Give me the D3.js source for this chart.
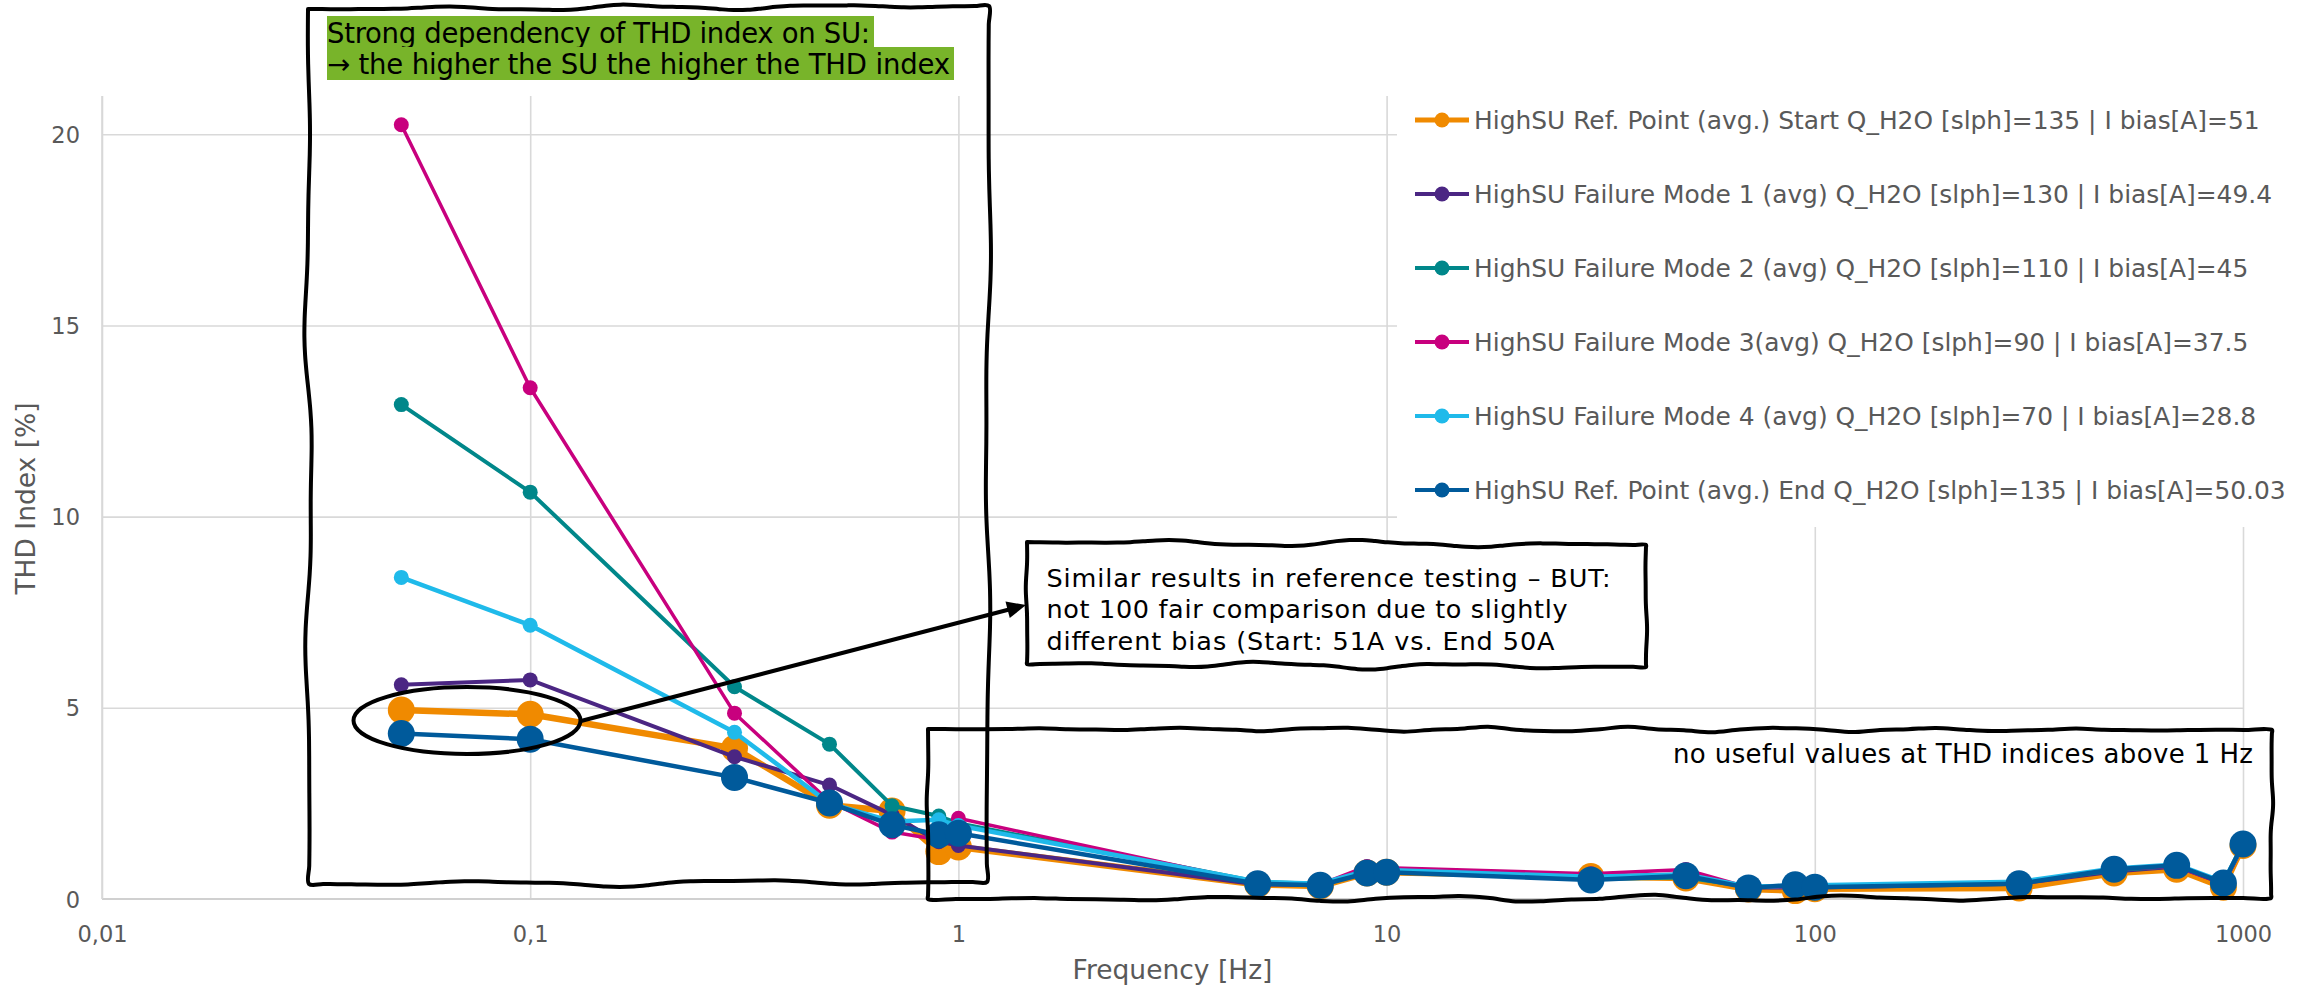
<!DOCTYPE html>
<html>
<head>
<meta charset="utf-8">
<script src="https://cdn.jsdelivr.net/npm/d3@7"></script>
<style>
  body { margin: 0; background: #fff; }
  svg { display: block; }
  text { font-family: "DejaVu Sans", Verdana, sans-serif; }
</style>
</head>
<body>
<svg id="chart" width="2310" height="987"></svg>
<script>
// ---- data -------------------------------------------------------------
const frequencies = [0.05, 0.1, 0.3, 0.5, 0.7, 0.9, 1, 5, 7, 9, 10, 30, 50, 70, 90, 100, 300, 500, 700, 900, 1000];

const refStart = [4.94, 4.83, 3.94, 2.45, 2.30, 1.24, 1.36, 0.38, 0.34, 0.68, 0.70, 0.59, 0.55, 0.26, 0.22, 0.27, 0.29, 0.68, 0.78, 0.31, 1.40];
const failureMode1 = [5.60, 5.73, 3.72, 2.98, 2.20, 1.50, 1.40, 0.38, 0.36, 0.72, 0.74, 0.58, 0.65, 0.30, 0.30, 0.30, 0.40, 0.72, 0.85, 0.40, 1.40];
const failureMode2 = [12.93, 10.64, 5.55, 4.05, 2.44, 2.17, 1.98, 0.45, 0.40, 0.72, 0.72, 0.52, 0.56, 0.32, 0.34, 0.33, 0.42, 0.75, 0.86, 0.44, 1.42];
const failureMode3 = [20.25, 13.37, 4.86, 2.55, 1.75, 1.55, 2.11, 0.42, 0.38, 0.85, 0.82, 0.66, 0.77, 0.30, 0.33, 0.34, 0.42, 0.78, 0.85, 0.40, 1.40];
const failureMode4 = [8.41, 7.16, 4.36, 2.50, 2.03, 2.07, 1.92, 0.45, 0.40, 0.75, 0.76, 0.58, 0.64, 0.32, 0.35, 0.36, 0.45, 0.80, 0.90, 0.45, 1.42];
const refEnd = [4.33, 4.18, 3.18, 2.51, 1.94, 1.68, 1.72, 0.40, 0.36, 0.68, 0.70, 0.50, 0.61, 0.29, 0.37, 0.31, 0.40, 0.78, 0.88, 0.42, 1.44];

const seriesNames = [
  "HighSU Ref. Point (avg.) Start Q_H2O [slph]=135 | I bias[A]=51",
  "HighSU Failure Mode 1 (avg) Q_H2O [slph]=130 | I bias[A]=49.4",
  "HighSU Failure Mode 2 (avg) Q_H2O [slph]=110 | I bias[A]=45",
  "HighSU Failure Mode 3(avg) Q_H2O [slph]=90 | I bias[A]=37.5",
  "HighSU Failure Mode 4 (avg) Q_H2O [slph]=70 | I bias[A]=28.8",
  "HighSU Ref. Point (avg.) End Q_H2O [slph]=135 | I bias[A]=50.03"
];
const seriesValues = [refStart, failureMode1, failureMode2, failureMode3, failureMode4, refEnd];

const xTickValues = [0.01, 0.1, 1, 10, 100, 1000];
const xTickLabels = ["0,01", "0,1", "1", "10", "100", "1000"];
const yTickValues = [0, 5, 10, 15, 20];
const yTickLabels = ["0", "5", "10", "15", "20"];

const xTitle = "Frequency [Hz]";
const yTitle = "THD Index [%]";
const noteSU = ["Strong dependency of THD index on SU:", "\u2192 the higher the SU the higher the THD index"];
const noteReference = ["Similar results in reference testing \u2013 BUT:", "not 100 fair comparison due to slightly", "different bias (Start: 51A vs. End 50A"];
const noteHighFreq = "no useful values at THD indices above 1 Hz";

// ---- styles -----------------------------------------------------------
const seriesColors = ["#f08a00", "#4b2683", "#00878a", "#c8007e", "#1fbaea", "#005a9b"];
const seriesLineWidths = [6.5, 4, 4, 3.5, 4.5, 4.5];
const seriesMarkerRadius = [13.5, 7.5, 7.5, 7.5, 7.5, 13.5];

const W = 2310, H = 987;
const plot = { left: 102, right: 2243, top: 96, bottom: 899 };
const gridColor = "#d9d9d9";
const labelColor = "#595959";

const svg = d3.select("#chart");

const x = d3.scaleLog().domain([0.01, 1000]).range([plot.left, plot.right]);
const y = d3.scaleLinear().domain([0, 21]).range([plot.bottom, plot.top]);

// ---- grid -------------------------------------------------------------
const grid = svg.append("g");
grid.append("g")
  .attr("transform", `translate(0,${plot.bottom})`)
  .call(d3.axisBottom(x).tickValues(xTickValues).tickSize(-(plot.bottom - plot.top)).tickFormat(""))
  .call(g => g.select(".domain").remove())
  .call(g => g.selectAll("line").attr("stroke", gridColor).attr("stroke-width", 1.6));
grid.append("g")
  .attr("transform", `translate(${plot.left},0)`)
  .call(d3.axisLeft(y).tickValues(yTickValues.filter(v => v > 0)).tickSize(-(plot.right - plot.left)).tickFormat(""))
  .call(g => g.select(".domain").remove())
  .call(g => g.selectAll("line").attr("stroke", gridColor).attr("stroke-width", 1.6));
// value axis baseline
svg.append("line")
  .attr("x1", plot.left).attr("x2", plot.right)
  .attr("y1", y(0)).attr("y2", y(0))
  .attr("stroke", "#d0d0d0").attr("stroke-width", 2.2);

// legend panel sits over the upper right part of the grid
const legendBox = { left: 1397, top: 0, right: W, bottom: 527 };
svg.append("rect")
  .attr("x", legendBox.left).attr("y", legendBox.top)
  .attr("width", legendBox.right - legendBox.left).attr("height", legendBox.bottom - legendBox.top)
  .attr("fill", "#fff");

// ---- tick labels ------------------------------------------------------
const xAxis = svg.append("g")
  .attr("transform", `translate(0,${plot.bottom})`)
  .call(d3.axisBottom(x).tickValues(xTickValues).tickSize(0).tickPadding(0)
    .tickFormat((d, i) => xTickLabels[i]));
xAxis.select(".domain").remove();
xAxis.selectAll("text")
  .attr("y", 43).attr("dy", null)
  .attr("fill", labelColor).attr("font-size", 22.5)
  .attr("font-family", '"DejaVu Sans", Verdana, sans-serif');

const yAxis = svg.append("g")
  .attr("transform", `translate(${plot.left},0)`)
  .call(d3.axisLeft(y).tickValues(yTickValues).tickSize(0).tickPadding(0)
    .tickFormat((d, i) => yTickLabels[i]));
yAxis.select(".domain").remove();
yAxis.selectAll("text")
  .attr("x", -22).attr("dy", "0.36em")
  .attr("fill", labelColor).attr("font-size", 22.5)
  .attr("font-family", '"DejaVu Sans", Verdana, sans-serif');

// axis line on the left
svg.append("line")
  .attr("x1", plot.left).attr("x2", plot.left)
  .attr("y1", plot.top).attr("y2", plot.bottom)
  .attr("stroke", gridColor).attr("stroke-width", 1.6);

// ---- axis titles ------------------------------------------------------
svg.append("text")
  .attr("x", (plot.left + plot.right) / 2).attr("y", 979)
  .attr("text-anchor", "middle").attr("font-size", 26.5).attr("fill", labelColor)
  .text(xTitle);
svg.append("text")
  .attr("transform", `translate(35,${(plot.top + plot.bottom) / 2 + 1}) rotate(-90)`)
  .attr("text-anchor", "middle").attr("font-size", 26.5).attr("fill", labelColor)
  .text(yTitle);

// ---- series -----------------------------------------------------------
const line = d3.line().x(d => x(d[0])).y(d => y(d[1]));
seriesValues.forEach((vals, s) => {
  const pts = frequencies.map((f, i) => [f, vals[i]]);
  const g = svg.append("g");
  g.append("path")
    .attr("d", line(pts))
    .attr("fill", "none")
    .attr("stroke", seriesColors[s])
    .attr("stroke-width", seriesLineWidths[s])
    .attr("stroke-linejoin", "round");
  g.selectAll("circle").data(pts).join("circle")
    .attr("cx", d => x(d[0])).attr("cy", d => y(d[1]))
    .attr("r", seriesMarkerRadius[s])
    .attr("fill", seriesColors[s]);
});

// ---- legend -----------------------------------------------------------
const legendTop = 120, legendStep = 74;
const legend = svg.append("g");
seriesNames.forEach((name, s) => {
  const cy = legendTop + s * legendStep;
  legend.append("line")
    .attr("x1", 1415).attr("x2", 1469).attr("y1", cy).attr("y2", cy)
    .attr("stroke", seriesColors[s]).attr("stroke-width", s === 0 ? 5 : 4.2);
  legend.append("circle")
    .attr("cx", 1442).attr("cy", cy).attr("r", 7.5).attr("fill", seriesColors[s]);
  legend.append("text")
    .attr("x", 1474).attr("y", cy + 8.8)
    .attr("font-size", 24.9).attr("fill", labelColor)
    .text(name);
});

// ---- hand-drawn annotation shapes ------------------------------------
// an edge that wobbles around the straight line between two corners
function wobbleEdge(p0, p1, amp, waves, phase) {
  const n = 48, dx = p1[0] - p0[0], dy = p1[1] - p0[1];
  const len = Math.hypot(dx, dy), nx = -dy / len, ny = dx / len;
  const out = [];
  for (let i = 0; i <= n; i++) {
    const t = i / n;
    const off = amp * Math.sin(Math.PI * t) *
      (Math.sin(2 * Math.PI * waves * t + phase) + 0.35 * Math.sin(2 * Math.PI * waves * 2.3 * t + phase * 1.7));
    out.push([p0[0] + dx * t + nx * off, p0[1] + dy * t + ny * off]);
  }
  return out;
}
function sketchBox(corners, edges) {
  let pts = [];
  for (let k = 0; k < 4; k++) {
    const e = wobbleEdge(corners[k], corners[(k + 1) % 4], edges[k][0], edges[k][1], edges[k][2]);
    pts = pts.concat(k === 0 ? e : e.slice(1));
  }
  return d3.line().curve(d3.curveCatmullRom)(pts) + "Z";
}
const shapes = svg.append("g").attr("fill", "none").attr("stroke", "#000")
  .attr("stroke-width", 4).attr("stroke-linejoin", "round");

// box around the low-frequency region
shapes.append("path").attr("d", sketchBox(
  [[308, 9], [989, 6], [987, 882], [309, 884]],
  [[2.5, 3.5, 0.4], [2.5, 2.2, 1.1], [3, 2.6, 2.0], [3.5, 2.5, 0.7]]));

// box around the high-frequency region
shapes.append("path").attr("d", sketchBox(
  [[928, 729], [2272, 730], [2271, 898], [928, 899]],
  [[2.2, 9, 0.3], [1.2, 1.5, 0.8], [2.8, 6.5, 1.4], [1.0, 1.2, 0.5]]));

// ellipse around the reference points at 0.05 and 0.1 Hz
shapes.append("ellipse")
  .attr("cx", 467).attr("cy", 720.5).attr("rx", 113.5).attr("ry", 33.5);

// connector from the ellipse to the callout box, with arrow head
const arrowFrom = [581, 721], arrowTo = [1026, 605];
shapes.append("line")
  .attr("x1", arrowFrom[0]).attr("y1", arrowFrom[1])
  .attr("x2", arrowTo[0] - 14).attr("y2", arrowTo[1] + 3.7);
{
  const ang = Math.atan2(arrowTo[1] - arrowFrom[1], arrowTo[0] - arrowFrom[0]);
  const L = 19, Wd = 8.5;
  const bx = arrowTo[0] - L * Math.cos(ang), by = arrowTo[1] - L * Math.sin(ang);
  const px = -Math.sin(ang), py = Math.cos(ang);
  svg.append("path")
    .attr("d", `M${arrowTo[0]},${arrowTo[1]}L${bx + px * Wd},${by + py * Wd}L${bx - px * Wd},${by - py * Wd}Z`)
    .attr("fill", "#000");
}

// callout box with white fill
svg.append("path").attr("d", sketchBox(
  [[1027, 542], [1646, 545], [1646, 667], [1027, 664]],
  [[3, 3, 0.6], [1.0, 1, 0.3], [3, 3.2, 1.8], [1.0, 1, 0.9]]))
  .attr("fill", "#fff").attr("stroke", "#000").attr("stroke-width", 4)
  .attr("stroke-linejoin", "round");

// ---- annotation texts -------------------------------------------------
// each line is set to the width of its text box line
const noteSUWidths = [543, 623];
const noteSUGroup = svg.append("g");
noteSU.forEach((t, i) => {
  const base = 43 + i * 30.5;
  noteSUGroup.append("rect").attr("fill", "#78b42a")
    .attr("x", 327).attr("y", i === 0 ? 16 : 47)
    .attr("width", noteSUWidths[i] + 4).attr("height", i === 0 ? 31 : 33);
  noteSUGroup.append("text")
    .attr("x", 327).attr("y", base)
    .attr("font-size", 27.5).attr("fill", "#000")
    .attr("textLength", noteSUWidths[i]).attr("lengthAdjust", "spacing")
    .text(t);
});

const noteReferenceWidths = [564, 521, 508];
noteReference.forEach((t, i) => {
  svg.append("text")
    .attr("x", 1046.5).attr("y", 587 + i * 31.3)
    .attr("font-size", 25.5).attr("fill", "#000")
    .attr("textLength", noteReferenceWidths[i]).attr("lengthAdjust", "spacing")
    .text(t);
});

svg.append("text")
  .attr("x", 1673).attr("y", 763)
  .attr("font-size", 26).attr("fill", "#000")
  .attr("textLength", 580).attr("lengthAdjust", "spacing")
  .text(noteHighFreq);
</script>
</body>
</html>
